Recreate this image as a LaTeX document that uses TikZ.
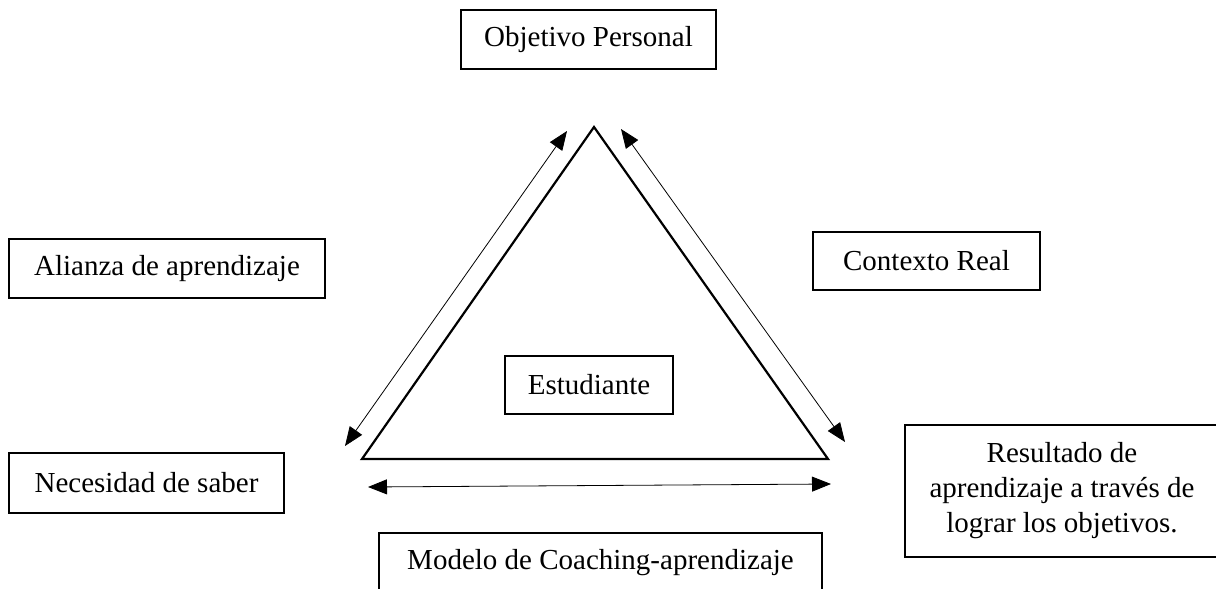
\documentclass[tikz,border=0pt]{standalone}
\usepackage{fontspec}
\setmainfont{Liberation Serif}
\usetikzlibrary{arrows.meta}
\begin{document}
\begin{tikzpicture}[x=1pt,y=-1pt,
  box/.style={draw, line width=1.3pt, inner sep=0pt, align=center,
    font=\fontsize{29}{35}\selectfont},
  side/.style={line width=2.2pt, line join=miter},
  link/.style={line width=0.8pt, {Triangle[length=19pt,width=15pt]}-{Triangle[length=19pt,width=15pt]}}]
  \useasboundingbox (0,0) rectangle (1216,589);
  \clip (0,0) rectangle (1216,589);
  \fill[white] (0,0) rectangle (1216,589);

  % surrounding labels
  \node[box, minimum width=255pt, minimum height=59pt] (obj) at (588.5,39.5) {Objetivo Personal};
  \node[box, minimum width=316pt, minimum height=59pt] (ali) at (167,268.5) {Alianza de aprendizaje};
  \node[box, minimum width=275pt, minimum height=60pt] (nec) at (146.5,483) {Necesidad de saber};
  \node[box, minimum width=227pt, minimum height=58pt] (ctx) at (926.5,261) {Contexto Real};
  \node[box, minimum width=168pt, minimum height=58pt] (est) at (589,385) {Estudiante};
  \node[box, minimum width=314pt, minimum height=132pt] (res) at (1062,491)
    {Resultado de\\aprendizaje a través de\\lograr los objetivos.};
  \node[box, minimum width=443pt, minimum height=59pt] (mod) at (600.5,562.5) {Modelo de Coaching-aprendizaje};

  % triangle
  \coordinate (apex) at (594,127);
  \coordinate (bl) at (362,459);
  \coordinate (br) at (828,459);
  \draw[side] (apex) -- (bl) -- (br) -- cycle;

  % double arrows along the sides
  \coordinate (l1) at (345,446);
  \coordinate (l2) at (567,131);
  \coordinate (r1) at (621,129);
  \coordinate (r2) at (845,442);
  \coordinate (b1) at (368,487);
  \coordinate (b2) at (831,484);
  \draw[link] (l1) -- (l2);
  \draw[link] (r1) -- (r2);
  \draw[link] (b1) -- (b2);
\end{tikzpicture}
\end{document}
